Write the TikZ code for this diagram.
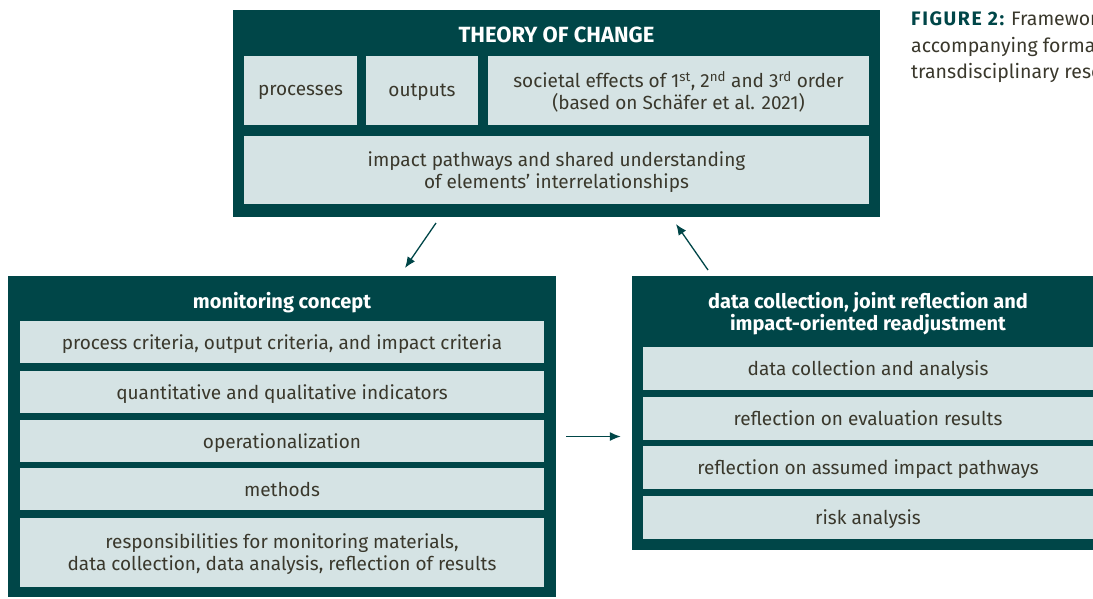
\documentclass[tikz,border=0pt]{standalone}
\usepackage{fontspec}
\setmainfont{Fira Sans}
\usepackage{xcolor}
\usetikzlibrary{arrows.meta}
\definecolor{teal}{RGB}{0,70,72}
\definecolor{pale}{RGB}{213,227,228}
\definecolor{ink}{RGB}{58,56,44}
\tikzstyle{frame}=[fill=teal, inner sep=0pt]
\tikzstyle{cell}=[fill=pale, text=ink, inner sep=0pt, text depth=0pt, align=center, font=\fontsize{19}{22}\selectfont]
\tikzset{heading/.style={text=white, align=center, text depth=0pt, font=\fontsize{20}{22}\selectfont\bfseries}}
\tikzset{flow/.style={-{Latex[length=11pt,width=9pt]}, line width=1.3pt, color=teal}}
\newcommand{\ord}[1]{\textsuperscript{#1}}

\begin{document}
\begin{tikzpicture}[x=1pt,y=-1pt]
  \useasboundingbox (0,0) rectangle (1093,598);
  \clip (0,0) rectangle (1093,598);

  %% Theory of change
  \draw (556.5,113.5) node[frame,minimum width=647,minimum height=207] (ToC) {};
  \draw (556.5,35) node[heading,font=\fontsize{22}{22}\selectfont\bfseries] (ToCt) {THEORY OF CHANGE};
  \draw (300.5,90.5) node[cell,minimum width=113,minimum height=69] (Proc) {processes};
  \draw (422,90.5) node[cell,minimum width=112,minimum height=69] (Outp) {outputs};
  \draw (678.5,90.5) node[cell,minimum width=381,minimum height=69] (Soc) {societal effects of 1\ord{st}, 2\ord{nd} and 3\ord{rd} order\\(based on Schäfer et al. 2021)};
  \draw (556.5,170) node[cell,minimum width=625,minimum height=68] (Path) {impact pathways and shared understanding\\of elements’ interrelationships};

  %% Monitoring concept
  \draw (282,436.5) node[frame,minimum width=548,minimum height=321] (MC) {};
  \draw (282,300) node[heading] (MCt) {monitoring concept};
  \draw (282,342) node[cell,minimum width=524,minimum height=42] (M1) {process criteria, output criteria, and impact criteria};
  \draw (282,392) node[cell,minimum width=524,minimum height=42] (M2) {quantitative and qualitative indicators};
  \draw (282,441) node[cell,minimum width=524,minimum height=42] (M3) {operationalization};
  \draw (282,489) node[cell,minimum width=524,minimum height=42] (M4) {methods};
  \draw (282,552.5) node[cell,minimum width=524,minimum height=69] (M5) {responsibilities for monitoring materials,\\data collection, data analysis, reflection of results};

  %% Data collection and reflection
  \draw (868,413) node[frame,minimum width=472,minimum height=274] (DC) {};
  \draw (868,311) node[heading] (DCt) {data collection, joint reflection and\\impact-oriented readjustment};
  \draw (868,368.5) node[cell,minimum width=450,minimum height=43] (D1) {data collection and analysis};
  \draw (868,418.5) node[cell,minimum width=450,minimum height=43] (D2) {reflection on evaluation results};
  \draw (868,467.5) node[cell,minimum width=450,minimum height=43] (D3) {reflection on assumed impact pathways};
  \draw (868,517.5) node[cell,minimum width=450,minimum height=43] (D4) {risk analysis};

  %% Cycle arrows
  \coordinate (a1) at (436,223);
  \coordinate (b1) at (405,268);
  \coordinate (a2) at (708,270);
  \coordinate (b2) at (676,224);
  \draw[flow] (a1) -- (b1);
  \draw[flow] (a2) -- (b2);
  \draw[flow,shorten <=10pt,shorten >=11pt] (MC.east) -- (MC.east -| DC.west);

  %% Caption
  \draw (911,47) node[anchor=west,align=left,text=ink,inner sep=0pt,font=\fontsize{19.5}{26.5}\selectfont] (Cap) {\textcolor{teal}{\bfseries\addfontfeature{LetterSpace=8}FIGURE 2:} Framework\\accompanying format\\transdisciplinary research};
\end{tikzpicture}
\end{document}
